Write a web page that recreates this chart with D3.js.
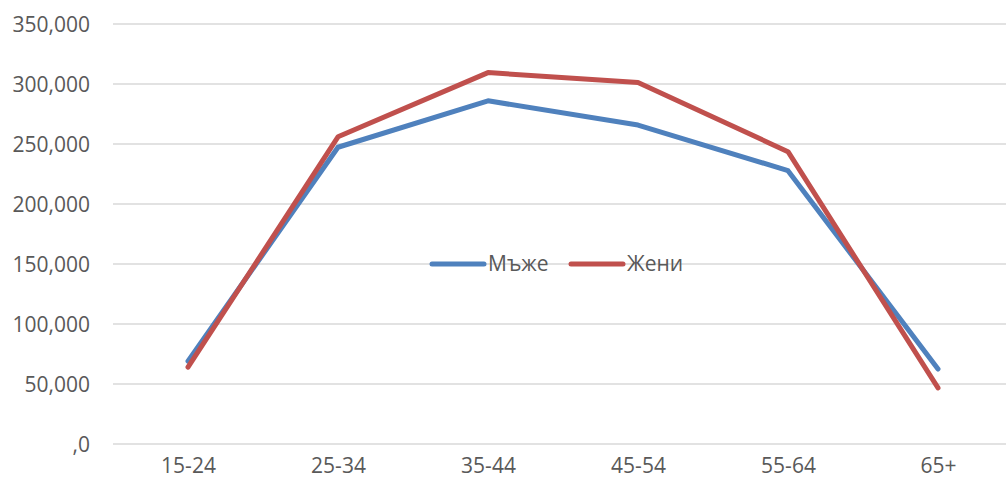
<!DOCTYPE html>
<html><head><meta charset="utf-8">
<script src="https://cdn.jsdelivr.net/npm/d3@7/dist/d3.min.js"></script>
<style>html,body{margin:0;padding:0;background:#fff;}svg{display:block;}</style>
</head><body>
<svg id="c" width="1006" height="483"></svg>
<script>
const categories = ["15-24","25-34","35-44","45-54","55-64","65+"];
const men   = [69000, 247300, 286000, 265800, 227800, 62500];
const women = [64000, 256000, 309500, 301300, 243600, 46700];
const seriesNames = ["Мъже","Жени"];
const seriesColors = ["#4F81BD","#C0504D"];
const yTicks = [0,50000,100000,150000,200000,250000,300000,350000];

(function(){
const svg = d3.select("#c");
const pLeft = 113, pRight = 1006, pTop = 24, pBottom = 444;
const x = d3.scalePoint().domain(categories).range([pLeft, pLeft + 900]).padding(0.5);
const y = d3.scaleLinear().domain([0,350000]).range([pBottom, pTop]);
const font = "'Open Sans', sans-serif";
const fs = 21;
const fmt = v => v === 0 ? ",0" : d3.format(",")(v);

// gridlines
svg.append("g").selectAll("line").data(yTicks).join("line")
  .attr("x1", pLeft).attr("x2", pRight)
  .attr("y1", d => y(d)).attr("y2", d => y(d))
  .attr("stroke", "#d9d9d9").attr("stroke-width", 1.5);

// y axis labels
const yAxis = d3.axisLeft(y).tickValues(yTicks).tickFormat(fmt).tickSize(0).tickPadding(0);
const gy = svg.append("g").attr("transform", `translate(90,0)`).call(yAxis);
gy.select(".domain").remove();
gy.selectAll("text").attr("font-family", font).attr("font-size", fs).attr("fill", "#595959").attr("dy", "0.35em");

// x axis labels
const xAxis = d3.axisBottom(x).tickSize(0).tickPadding(0);
const gx = svg.append("g").attr("transform", `translate(0,458)`).call(xAxis);
gx.select(".domain").remove();
gx.selectAll("text").attr("font-family", font).attr("font-size", fs).attr("fill", "#595959").attr("dy", "0.71em");

// lines
const line = d3.line().x((d,i) => x(categories[i])).y(d => y(d));
[men, women].forEach((s, k) => {
  svg.append("path").datum(s).attr("d", line)
    .attr("fill", "none").attr("stroke", seriesColors[k]).attr("stroke-width", 5)
    .attr("stroke-linecap", "round").attr("stroke-linejoin", "round");
});

// legend
const legX = [432, 571];
seriesNames.forEach((n, k) => {
  const g = svg.append("g").attr("transform", `translate(${legX[k]},264)`);
  g.append("line").attr("x1", 0).attr("x2", 52).attr("y1", 0).attr("y2", 0)
    .attr("stroke", seriesColors[k]).attr("stroke-width", 5).attr("stroke-linecap", "round");
  g.append("text").attr("x", 56).attr("y", 0).attr("dy", "0.35em")
    .attr("font-family", font).attr("font-size", fs).attr("fill", "#595959").text(n);
});
})();
</script>
</body></html>
